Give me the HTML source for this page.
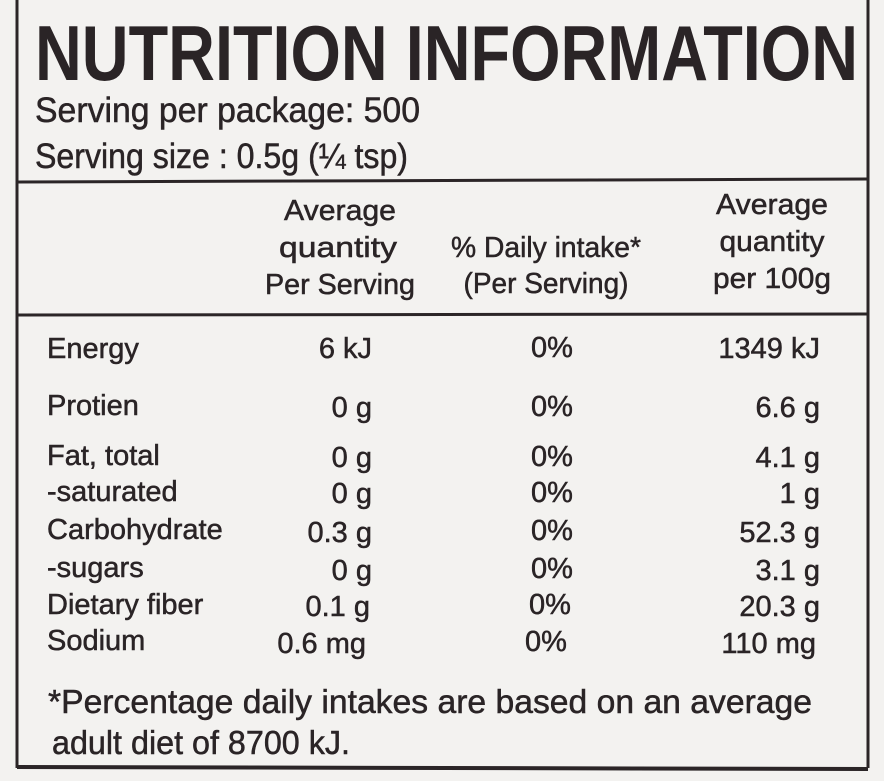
<!DOCTYPE html>
<html><head><meta charset="utf-8"><style>
html,body{margin:0;padding:0;background:#f3f2f0;}
svg{display:block}
text{font-family:"Liberation Sans",sans-serif;fill:#2a2426;stroke:#2a2426;stroke-width:0.5;}
</style></head><body>
<svg width="884" height="781" viewBox="0 0 884 781" xmlns="http://www.w3.org/2000/svg">
<rect width="884" height="781" fill="#f3f2f0"/>
<g stroke="#2b2527" fill="none">
<line x1="17" y1="0" x2="17" y2="768" stroke-width="3"/>
<line x1="868" y1="0" x2="868" y2="768" stroke-width="3"/>
<line x1="17" y1="767" x2="868" y2="769" stroke-width="4"/>
<line x1="17" y1="182" x2="868" y2="179" stroke-width="3"/>
<line x1="17" y1="315" x2="868" y2="314" stroke-width="3"/>
</g>
<text x="35" y="80" font-size="78" font-weight="bold" textLength="823" lengthAdjust="spacingAndGlyphs" style="stroke-width:0">NUTRITION INFORMATION</text>
<text x="35" y="122" font-size="35" textLength="385" lengthAdjust="spacingAndGlyphs">Serving per package: 500</text>
<text x="35" y="168" font-size="35" textLength="373" lengthAdjust="spacingAndGlyphs">Serving size : 0.5g (¼ tsp)</text>
<g font-size="29" text-anchor="middle">
<text x="340" y="220" textLength="112" lengthAdjust="spacingAndGlyphs">Average</text>
<text x="338" y="257" textLength="118" lengthAdjust="spacingAndGlyphs">quantity</text>
<text x="340" y="294" textLength="150" lengthAdjust="spacingAndGlyphs">Per Serving</text>
<text x="546" y="257" textLength="190" lengthAdjust="spacingAndGlyphs">% Daily intake*</text>
<text x="546" y="293" textLength="165" lengthAdjust="spacingAndGlyphs">(Per Serving)</text>
<text x="772" y="214" textLength="112" lengthAdjust="spacingAndGlyphs">Average</text>
<text x="772" y="251" textLength="105" lengthAdjust="spacingAndGlyphs">quantity</text>
<text x="772" y="288" textLength="118" lengthAdjust="spacingAndGlyphs">per 100g</text>
</g>
<g font-size="29">
<text x="47" y="358">Energy</text>
<text x="47" y="415">Protien</text>
<text x="47" y="465">Fat, total</text>
<text x="47" y="501">-saturated</text>
<text x="47" y="539">Carbohydrate</text>
<text x="47" y="577">-sugars</text>
<text x="47" y="614">Dietary fiber</text>
<text x="47" y="650">Sodium</text>
</g>
<g font-size="29" text-anchor="end">
<text x="372" y="358">6 kJ</text>
<text x="372" y="417">0 g</text>
<text x="372" y="467">0 g</text>
<text x="372" y="503">0 g</text>
<text x="372" y="542">0.3 g</text>
<text x="372" y="580">0 g</text>
<text x="370" y="616">0.1 g</text>
<text x="366" y="653">0.6 mg</text>
<text x="820" y="358">1349 kJ</text>
<text x="820" y="417">6.6 g</text>
<text x="820" y="467">4.1 g</text>
<text x="820" y="503">1 g</text>
<text x="820" y="542">52.3 g</text>
<text x="820" y="580">3.1 g</text>
<text x="820" y="616">20.3 g</text>
<text x="816" y="653">110 mg</text>
</g>
<g font-size="29" text-anchor="middle">
<text x="552" y="357">0%</text>
<text x="552" y="416">0%</text>
<text x="552" y="466">0%</text>
<text x="552" y="502">0%</text>
<text x="552" y="540">0%</text>
<text x="552" y="578">0%</text>
<text x="550" y="614">0%</text>
<text x="546" y="651">0%</text>
</g>
<text x="48" y="713" font-size="33" textLength="764" lengthAdjust="spacingAndGlyphs">*Percentage daily intakes are based on an average</text>
<text x="52" y="754" font-size="33" textLength="298" lengthAdjust="spacingAndGlyphs">adult diet of 8700 kJ.</text>
</svg>
</body></html>
